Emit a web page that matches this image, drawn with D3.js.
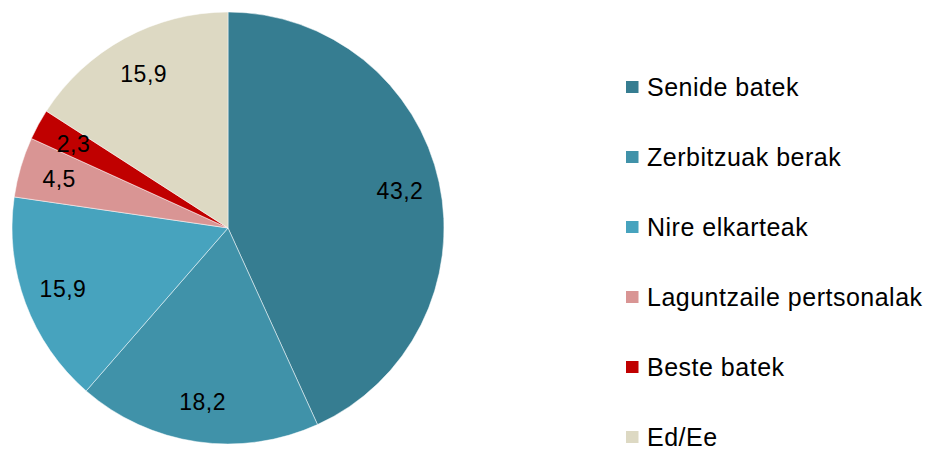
<html lang="en"><head>
<meta http-equiv="Content-Type" content="text/html; charset=UTF-8">
<title>Pie</title>
<script type="text/javascript" src="https://cdn.jsdelivr.net/npm/d3@7"></script>
<style type="text/css">
body { margin: 0; background: #fff; }
text { font-family: "Liberation Sans", Arial, sans-serif; }
</style>
</head>
<body>
<div id="chart"></div>
<script type="text/javascript">

var categories = ["Senide batek", "Zerbitzuak berak", "Nire elkarteak", "Laguntzaile pertsonalak", "Beste batek", "Ed/Ee"];
var values = [43.2, 18.2, 15.9, 4.5, 2.3, 15.9];
var colors = ["#367d91", "#4092a9", "#47a3be", "#d99594", "#c00000", "#ddd9c3"];

var width = 931;
var height = 449;
var cx = 228, cy = 228, radius = 216;

var svg = d3.select("#chart").append("svg")
        .attr("width", width)
        .attr("height", height);

var data = categories.map(function (c, i) {
  return {name: c, value: values[i], color: colors[i]};
});

var pie = d3.pie()
        .sort(null)
        .value(function (d) { return d.value; });

var arc = d3.arc().innerRadius(0).outerRadius(radius);
var labelArc = d3.arc().innerRadius(176).outerRadius(176);

var g = svg.append("g").attr("transform", "translate(" + cx + "," + cy + ")");

var arcs = pie(data);

g.selectAll("path").data(arcs).enter().append("path")
        .attr("d", arc)
        .attr("fill", function (d) { return d.data.color; })
        .attr("stroke", "#ffffff")
        .attr("stroke-width", 0.5);

g.selectAll("text").data(arcs).enter().append("text")
        .attr("transform", function (d) { return "translate(" + labelArc.centroid(d) + ")"; })
        .attr("text-anchor", "middle")
        .attr("dy", "0.36em")
        .attr("font-size", 23)
        .attr("letter-spacing", 0.5)
        .attr("fill", "#000")
        .text(function (d) { return String(d.data.value).replace(".", ","); });

// legend
var legend = svg.selectAll(".legend").data(data).enter().append("g")
        .attr("class", "legend")
        .attr("transform", function (d, i) { return "translate(626," + (87 + i * 70) + ")"; });

legend.append("rect")
        .attr("x", 0)
        .attr("y", -6)
        .attr("width", 12.5)
        .attr("height", 12)
        .attr("fill", function (d) { return d.color; });

legend.append("text")
        .attr("x", 21)
        .attr("dy", "0.34em")
        .attr("font-size", 25)
        .attr("letter-spacing", 0.5)
        .attr("fill", "#000")
        .text(function (d) { return d.name; });

</script>
</body></html>
